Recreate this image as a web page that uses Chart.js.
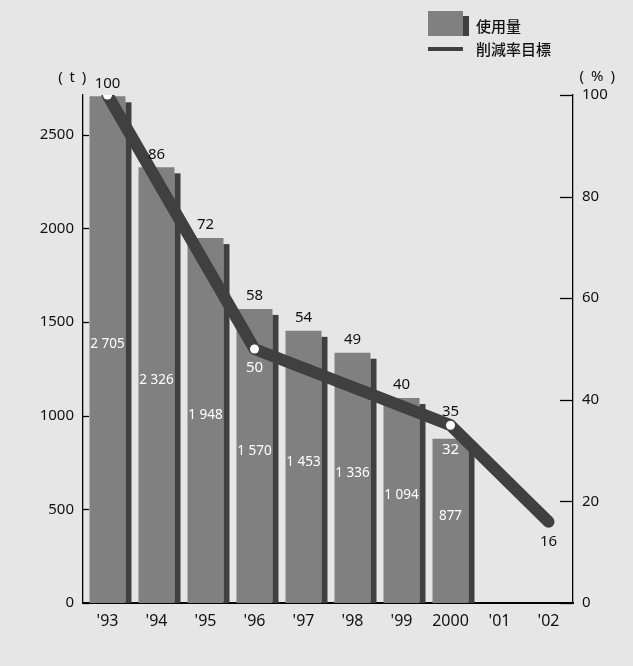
<!DOCTYPE html>
<html>
<head>
<meta charset="utf-8">
<script src="https://cdn.jsdelivr.net/npm/chart.js@4/dist/chart.umd.min.js"></script>
<style>
  html, body { margin: 0; padding: 0; background: #e6e6e6; }
  #wrap { width: 633px; height: 666px; position: relative; }
</style>
</head>
<body>
<div id="wrap"><canvas id="c" width="633" height="666"></canvas></div>
<script>
// Years on the category axis
const years = ["'93", "'94", "'95", "'96", "'97", "'98", "'99", "2000", "'01", "'02"];
// Annual usage (t)
const usage = [2705, 2326, 1948, 1570, 1453, 1336, 1094, 877, null, null];
// Usage relative to 1993 (%)
const usageRatio = [100, 86, 72, 58, 54, 49, 40, 32, null, null];
// Reduction target (%)
const target = [100, null, null, 50, null, null, null, 35, null, 16];
// Axis ticks
const leftTicks = [0, 500, 1000, 1500, 2000, 2500];
const rightTicks = [0, 20, 40, 60, 80, 100];

const legendLabels = ['使用量', '削減率目標'];
const unitLeft = '( t )';
const unitRight = '( % )';

const BAR = '#808080';
const DARK = '#404040';
const NUM = "'Noto Sans', sans-serif";
const CJK = "'Noto Sans CJK JP', 'Noto Sans', sans-serif";

const fmt = v => String(v).replace(/\B(?=(\d{3})+(?!\d))/g, ' ');

// Dark side strip to the right of each bar
const barSide = {
  id: 'barSide',
  afterDatasetDraw(chart, args) {
    if (args.index !== 0) return;
    const ctx = chart.ctx;
    const meta = chart.getDatasetMeta(0);
    ctx.save();
    ctx.fillStyle = DARK;
    meta.data.forEach((el, i) => {
      if (usage[i] == null) return;
      const right = el.x + el.width / 2;
      ctx.fillRect(right, el.y + 6, 6, el.base - el.y - 6);
    });
    ctx.restore();
  }
};

// Inward tick marks on both value axes
const tickMarks = {
  id: 'tickMarks',
  afterDraw(chart) {
    const ctx = chart.ctx;
    const yl = chart.scales.y, yr = chart.scales.y2;
    ctx.save();
    ctx.strokeStyle = '#000';
    ctx.lineWidth = 1.3;
    leftTicks.forEach(v => {
      const p = Math.round(yl.getPixelForValue(v)) + 0.5;
      ctx.beginPath(); ctx.moveTo(yl.right, p); ctx.lineTo(yl.right + 6, p); ctx.stroke();
    });
    rightTicks.forEach(v => {
      const p = Math.round(yr.getPixelForValue(v)) + 0.5;
      ctx.beginPath(); ctx.moveTo(yr.left, p); ctx.lineTo(yr.left - 13, p); ctx.stroke();
    });
    ctx.restore();
  }
};

// Value labels, unit captions and the legend
const labels = {
  id: 'labels',
  afterDraw(chart) {
    const ctx = chart.ctx;
    const bars = chart.getDatasetMeta(0).data;
    const pts = chart.getDatasetMeta(1).data;
    ctx.save();
    ctx.textAlign = 'center';
    ctx.textBaseline = 'middle';

    // usage amounts inside the bars
    ctx.font = '13.5px ' + NUM;
    ctx.fillStyle = '#fff';
    bars.forEach((el, i) => {
      if (usage[i] == null) return;
      ctx.fillText(fmt(usage[i]), el.x, (el.y + el.base) / 2 - 5);
    });

    ctx.font = '15px ' + NUM;
    years.forEach((_, i) => {
      const hasBar = usage[i] != null;
      const hasTarget = target[i] != null;
      const bar = bars[i];
      const pt = pts[i];
      if (hasBar && hasTarget && target[i] === usageRatio[i]) {
        ctx.fillStyle = '#111';
        ctx.fillText(String(usageRatio[i]), bar.x, bar.y - 13);
        return;
      }
      if (hasBar && hasTarget) {
        if (pt.y > bar.y) {
          // target point falls inside the bar
          ctx.fillStyle = '#111';
          ctx.fillText(String(usageRatio[i]), bar.x, bar.y - 13);
          ctx.fillStyle = '#fff';
          ctx.fillText(String(target[i]), pt.x, pt.y + 19);
        } else {
          ctx.fillStyle = '#111';
          ctx.fillText(String(target[i]), pt.x, pt.y - 13);
          ctx.fillStyle = '#fff';
          ctx.fillText(String(usageRatio[i]), bar.x, bar.y + 11);
        }
        return;
      }
      if (hasBar) {
        ctx.fillStyle = '#111';
        ctx.fillText(String(usageRatio[i]), bar.x, bar.y - 13);
      } else if (hasTarget) {
        ctx.fillStyle = '#111';
        ctx.fillText(String(target[i]), pt.x, pt.y + 20);
      }
    });

    // unit captions
    ctx.fillStyle = '#111';
    ctx.font = '15px ' + NUM;
    ctx.letterSpacing = '1.5px';
    ctx.fillText(unitLeft, chart.scales.y.right - 10, chart.chartArea.top - 17);
    ctx.fillText(unitRight, chart.scales.y2.left + 25, chart.chartArea.top - 18);
    ctx.letterSpacing = '0px';

    // legend
    const lx = 428;
    ctx.fillStyle = BAR;
    ctx.fillRect(lx, 11, 35, 25);
    ctx.fillStyle = DARK;
    ctx.fillRect(lx + 35, 16, 6, 20);
    ctx.fillRect(lx, 47, 35, 4);
    ctx.fillStyle = '#111';
    ctx.font = '500 15px ' + CJK;
    ctx.textAlign = 'left';
    ctx.fillText(legendLabels[0], 476, 26);
    ctx.fillText(legendLabels[1], 476, 49);
    ctx.restore();
  }
};

new Chart(document.getElementById('c'), {
  data: {
    labels: years,
    datasets: [
      {
        type: 'bar',
        label: legendLabels[0],
        data: usage,
        backgroundColor: BAR,
        barPercentage: 36 / 49,
        categoryPercentage: 1,
        yAxisID: 'y',
        order: 2
      },
      {
        type: 'line',
        label: legendLabels[1],
        data: target,
        yAxisID: 'y2',
        borderColor: DARK,
        borderWidth: 12,
        borderCapStyle: 'round',
        borderJoinStyle: 'round',
        spanGaps: true,
        tension: 0,
        pointRadius: ctx => (ctx.raw != null && ctx.dataIndex < target.length - 1) ? 4.5 : 0,
        pointBackgroundColor: '#fff',
        pointBorderWidth: 0,
        order: 1
      }
    ]
  },
  options: {
    responsive: false,
    animation: false,
    devicePixelRatio: 1,
    events: [],
    layout: { padding: { top: 95, left: 0, right: 0, bottom: 0 } },
    plugins: { legend: { display: false }, tooltip: { enabled: false } },
    scales: {
      x: {
        type: 'category',
        grid: { display: false, drawTicks: false },
        border: { display: true, color: '#000', width: 2 },
        ticks: { color: '#111', font: { family: NUM, size: 16 }, padding: 9 },
        afterFit: s => { s.height = 63; }
      },
      y: {
        position: 'left',
        min: 0,
        max: 2712,
        grid: { display: false, drawTicks: false },
        border: { display: true, color: '#000', width: 1.3 },
        ticks: {
          color: '#111',
          font: { family: NUM, size: 15 },
          padding: 9,
          callback: v => String(v)
        },
        afterBuildTicks: s => { s.ticks = leftTicks.map(v => ({ value: v })); },
        afterFit: s => { s.width = 83; }
      },
      y2: {
        position: 'right',
        min: 0,
        max: 100,
        grid: { display: false, drawTicks: false },
        border: { display: true, color: '#000', width: 1.3 },
        ticks: {
          color: '#111',
          font: { family: NUM, size: 15 },
          padding: 9,
          callback: v => String(v)
        },
        afterBuildTicks: s => { s.ticks = rightTicks.map(v => ({ value: v })); },
        afterFit: s => { s.width = 60; }
      }
    }
  },
  plugins: [barSide, tickMarks, labels]
});
</script>
</body>
</html>
